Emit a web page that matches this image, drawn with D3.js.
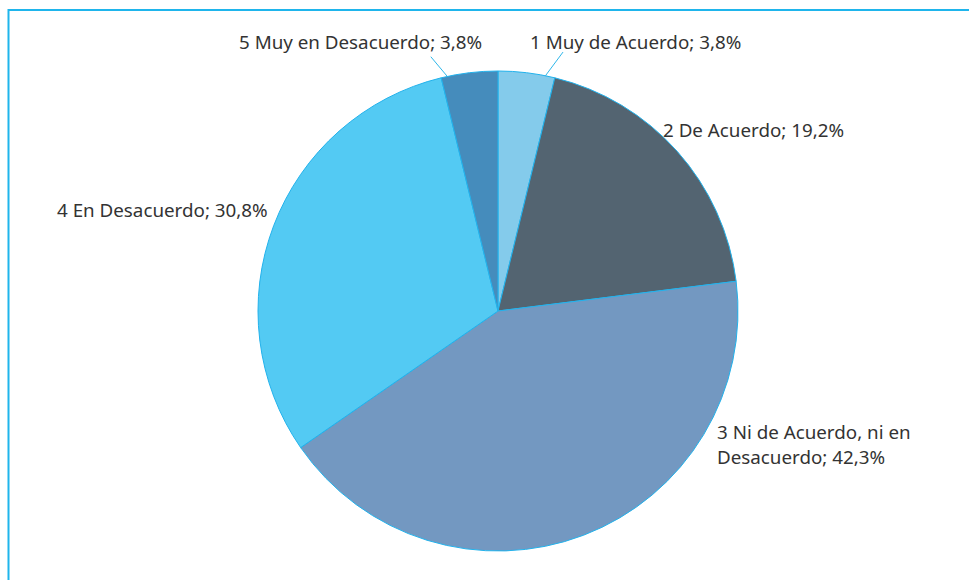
<!DOCTYPE html>
<html>
<head>
<meta charset="utf-8">
<script src="https://cdn.jsdelivr.net/npm/d3@7"></script>
<style>
  html, body { margin: 0; padding: 0; background: #fff; overflow: hidden; }
  text { font-family: "Noto Sans", "Open Sans", sans-serif; fill: #333; }
</style>
</head>
<body>
<div id="chart"></div>
<script>
// categories and values, clockwise from 12 o'clock
const categories = ["1 Muy de Acuerdo", "2 De Acuerdo", "3 Ni de Acuerdo, ni en Desacuerdo",
                    "4 En Desacuerdo", "5 Muy en Desacuerdo"];
const values = [3.8, 19.2, 42.3, 30.8, 3.8];
const valueLabels = ["3,8%", "19,2%", "42,3%", "30,8%", "3,8%"];
const colors = ["#84cbeb", "#536471", "#7398c1", "#53caf3", "#458cbc"];

const width = 969, height = 580;
const cx = 498, cy = 311, radius = 240;

// label layout: text lines, start x, first baseline (relative to pie centre)
// leader: [angle on arc (deg), outer radius, outer angle] or null
const labelLayout = [
  {lines: ["1 Muy de Acuerdo; 3,8%"], dx: 32, dy: -262, leader: [11.4, 267, 14.1]},
  {lines: ["2 De Acuerdo; 19,2%"], dx: 165, dy: -174, leader: null},
  {lines: ["3 Ni de Acuerdo, ni en", "Desacuerdo; 42,3%"], dx: 219, dy: 128, leader: null},
  {lines: ["4 En Desacuerdo; 30,8%"], dx: -441, dy: -94, leader: null},
  {lines: ["5 Muy en Desacuerdo; 3,8%"], dx: -259, dy: -262, leader: [-12.2, 263, -14.8]}
];

const svg = d3.select("#chart").append("svg")
  .attr("width", width)
  .attr("height", height);

// frame (right and bottom edges fall outside the window)
svg.append("rect")
  .attr("x", 8.5).attr("y", 10)
  .attr("width", 980).attr("height", 600)
  .attr("fill", "none")
  .attr("stroke", "#1fb5ec")
  .attr("stroke-width", 2);

const pie = d3.pie().sort(null).value(d => d);
const arcs = pie(values);
const arc = d3.arc().innerRadius(0).outerRadius(radius);

const g = svg.append("g").attr("transform", `translate(${cx},${cy})`);

g.selectAll("path.slice")
  .data(arcs)
  .enter()
  .append("path")
  .attr("class", "slice")
  .attr("d", arc)
  .attr("fill", (d, i) => colors[i])
  .attr("stroke", "#22b2ec")
  .attr("stroke-width", 1);

// leader lines
g.selectAll("line.leader")
  .data(labelLayout.filter(l => l.leader))
  .enter()
  .append("line")
  .attr("class", "leader")
  .attr("x1", d => d3.pointRadial(d.leader[0] * Math.PI / 180, radius)[0])
  .attr("y1", d => d3.pointRadial(d.leader[0] * Math.PI / 180, radius)[1])
  .attr("x2", d => d3.pointRadial(d.leader[2] * Math.PI / 180, d.leader[1])[0])
  .attr("y2", d => d3.pointRadial(d.leader[2] * Math.PI / 180, d.leader[1])[1])
  .attr("stroke", "#2fb7ea")
  .attr("stroke-width", 1);

// labels
const labels = g.selectAll("text.label")
  .data(labelLayout)
  .enter()
  .append("text")
  .attr("class", "label")
  .attr("x", d => d.dx)
  .attr("y", d => d.dy)
  .style("font-size", "18.8px");

labels.selectAll("tspan")
  .data(d => d.lines.map(t => ({t, x: d.dx})))
  .enter()
  .append("tspan")
  .attr("x", d => d.x)
  .attr("dy", (d, i) => i === 0 ? 0 : 25)
  .text(d => d.t);
</script>
</body>
</html>
